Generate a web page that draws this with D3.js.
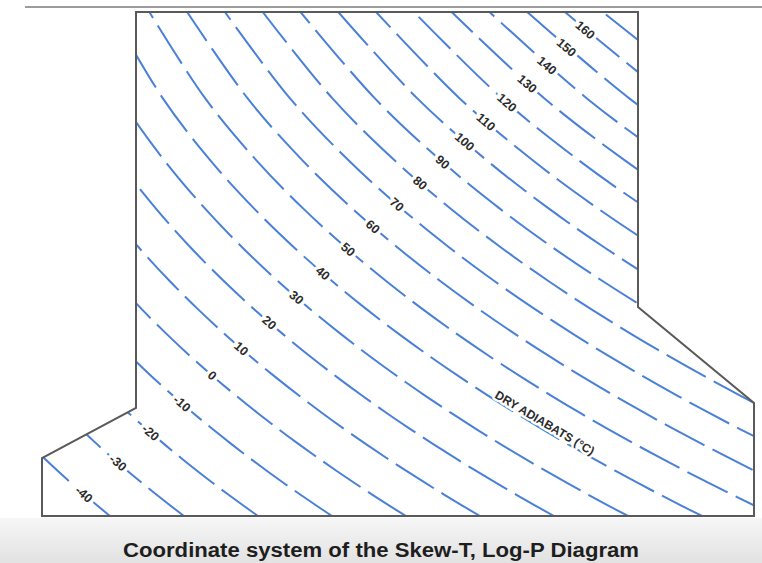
<!DOCTYPE html>
<html>
<head>
<meta charset="utf-8">
<script src="https://cdn.jsdelivr.net/npm/d3@7"></script>
<style>
  body { margin: 0; background: #fff; }
  svg { display: block; }
</style>
</head>
<body>
<script>
// Pressure levels (hPa) the adiabats are evaluated at, bottom to top
var pressureLevels = [1050, 1000, 950, 900, 850, 800, 750, 700, 650, 600, 550,
                      500, 450, 400, 350, 300, 250, 200, 150, 100];

// Dry adiabats drawn (potential temperature, deg C)
var adiabats = [-40, -30, -20, -10, 0, 10, 20, 30, 40, 50, 60, 70, 80, 90,
                100, 110, 120, 130, 140, 150, 160, 170, 180];

// Adiabats that carry a number label
var labelledAdiabats = [-40, -30, -20, -10, 0, 10, 20, 30, 40, 50, 60, 70,
                        80, 90, 100, 110, 120, 130, 140, 150, 160];

// Labels sit where each adiabat crosses this isotherm (deg C)
var labelIsotherm = -43.5;

var w = 762, h = 563;
var skew = 1.08; // px of x shift per px of height (skewed isotherms)

var svg = d3.select("body").append("svg")
    .attr("width", w)
    .attr("height", h);

// grey band behind the caption
var defs = svg.append("defs");
var grad = defs.append("linearGradient")
    .attr("id", "band").attr("x1", 0).attr("y1", 0).attr("x2", 0).attr("y2", 1);
grad.append("stop").attr("offset", "0%").attr("stop-color", "#f6f6f6");
grad.append("stop").attr("offset", "100%").attr("stop-color", "#e2e2e2");

svg.append("rect")
    .attr("x", 0).attr("y", 518)
    .attr("width", w).attr("height", h - 518)
    .style("fill", "url(#band)");

// thin rule at the top of the slide
svg.append("line")
    .attr("x1", 25).attr("x2", w)
    .attr("y1", 7).attr("y2", 7)
    .style("stroke", "#9c9c9c")
    .style("stroke-width", 2);

// scales: log-p vertical, temperature horizontal (at the bottom level)
var y = d3.scaleLog()
    .domain([1050, 100])
    .range([516, 12]);

var xT = d3.scaleLinear()
    .domain([0, 10])
    .range([378, 451]);

function px(t, p) {
    return xT(t) + skew * (y(1050) - y(p));
}

// temperature (deg C) on adiabat theta at pressure p
function adiabatT(theta, p) {
    return (theta + 273.15) * Math.pow(p / 1000, 0.286) - 273.15;
}

// frame of the diagram
var frame = [[136, 12], [638, 12], [638, 307], [754, 403], [754, 516],
             [42, 516], [42, 458], [136, 408]];

defs.append("clipPath").attr("id", "frameClip")
    .append("polygon")
    .attr("points", frame.map(function(d){ return d.join(","); }).join(" "));

var line = d3.line()
    .x(function(d){ return px(d.t, d.p); })
    .y(function(d){ return y(d.p); })
    .curve(d3.curveCatmullRom);

var lines = svg.append("g").attr("clip-path", "url(#frameClip)");

lines.selectAll(".adiabat")
    .data(adiabats)
    .enter()
    .append("path")
    .attr("class", "adiabat")
    .attr("d", function(theta){
        return line(pressureLevels.map(function(p){
            return { t: adiabatT(theta, p), p: p };
        }));
    })
    .style("fill", "none")
    .style("stroke", "#4a80d8")
    .style("stroke-width", 2)
    .style("stroke-dasharray", "45,9");

svg.append("polygon")
    .attr("points", frame.map(function(d){ return d.join(","); }).join(" "))
    .style("fill", "none")
    .style("stroke", "#5a5a5a")
    .style("stroke-width", 2);

// angle of an adiabat at pressure p (degrees, svg rotation)
function angleAt(theta, p) {
    var p1 = p * 1.02, p2 = p / 1.02;
    var x1 = px(adiabatT(theta, p1), p1), y1 = y(p1);
    var x2 = px(adiabatT(theta, p2), p2), y2 = y(p2);
    return Math.atan2(y1 - y2, x1 - x2) * 180 / Math.PI;
}

// number labels along the isotherm
var labels = svg.selectAll(".labels")
    .data(labelledAdiabats)
    .enter()
    .append("text")
    .attr("class", "labels")
    .attr("transform", function(theta){
        var p = 1000 * Math.pow((labelIsotherm + 273.15) / (theta + 273.15), 1 / 0.286);
        return "translate(" + px(labelIsotherm, p) + "," + y(p) + ") rotate(" + angleAt(theta, p) + ")";
    })
    .attr("text-anchor", "middle")
    .attr("dy", "0.35em")
    .style("font-family", "'Liberation Sans', Arial, sans-serif")
    .style("font-size", "12.5px")
    .style("font-weight", "bold")
    .style("fill", "#2b2b2b")
    .style("stroke", "#fff")
    .style("stroke-width", 7)
    .style("stroke-linejoin", "round")
    .style("paint-order", "stroke")
    .text(function(d){ return d; });

// series annotation
var noteTheta = 42, noteP = 680;
svg.append("text")
    .attr("transform", "translate(" + px(adiabatT(noteTheta, noteP), noteP) + "," + y(noteP) +
          ") rotate(" + angleAt(noteTheta, noteP) + ")")
    .attr("text-anchor", "middle")
    .attr("dy", "0.35em")
    .style("font-family", "'Liberation Sans', Arial, sans-serif")
    .style("font-size", "12px")
    .style("font-weight", "bold")
    .style("fill", "#2b2b2b")
    .style("stroke", "#fff")
    .style("stroke-width", 5)
    .style("stroke-linejoin", "round")
    .style("paint-order", "stroke")
    .text("DRY ADIABATS (\u00B0C)");

// caption
svg.append("text")
    .attr("x", w / 2)
    .attr("y", 557)
    .attr("text-anchor", "middle")
    .attr("textLength", 516)
    .attr("lengthAdjust", "spacingAndGlyphs")
    .style("font-family", "'Liberation Sans', Arial, sans-serif")
    .style("font-size", "20px")
    .style("font-weight", "bold")
    .style("fill", "#1e1e1e")
    .text("Coordinate system of the Skew-T, Log-P Diagram");
</script>
</body>
</html>
